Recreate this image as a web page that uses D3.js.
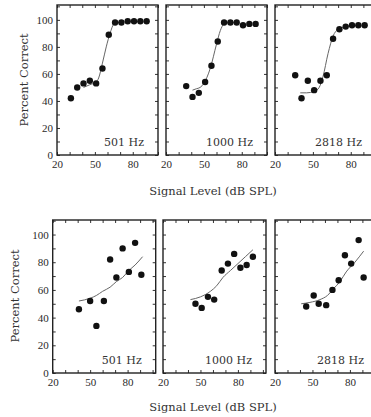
<!DOCTYPE html>
<html>
<head>
<meta charset="utf-8">
<script src="https://cdn.jsdelivr.net/npm/d3@7"></script>
<style>
  body { margin: 0; background: #fff; }
  svg { display: block; }
  .tick text { font-family: "Liberation Serif", serif; font-size: 11px; fill: #2a2a2a; }
  .tick line { stroke: #333; }
  .domain { display: none; }
  .frame { fill: none; stroke: #222; stroke-width: 1.4; }
  .fit { fill: none; stroke: #666; stroke-width: 1; }
  .dot { fill: #111; }
  .freq { font-family: "DejaVu Serif", serif; font-size: 11px; fill: #333; }
  .title { font-family: "DejaVu Serif", serif; font-size: 11.5px; fill: #333; }
</style>
</head>
<body>
<script>
// ---- data ----
const freqs = ["501 Hz", "1000 Hz", "2818 Hz"];

// top row
const top501Level = [31, 36, 41, 46, 51, 56, 61, 66, 71, 76, 81, 86, 91];
const top501Pct   = [42, 50, 53, 55, 53, 64, 89, 98, 98, 99, 99, 99, 99];
const top501FitLevel = [41, 46, 51, 53, 56, 59, 62, 65, 67, 72];
const top501FitPct   = [50, 52, 54, 57, 68, 80, 90, 97, 98, 98];

const top1000Level = [36, 41, 46, 51, 56, 61, 66, 71, 76, 81, 86, 91];
const top1000Pct   = [51, 43, 46, 54, 66, 84, 98, 98, 98, 96, 97, 97];
const top1000FitLevel = [41, 44, 47, 50, 55, 60, 63, 66, 70, 76];
const top1000FitPct   = [48, 49, 50, 53, 64, 82, 92, 97, 98, 98];

const top2818Level = [36, 41, 46, 51, 56, 61, 66, 71, 76, 81, 86, 91];
const top2818Pct   = [59, 42, 55, 48, 55, 59, 86, 93, 95, 96, 96, 96];
const top2818FitLevel = [40, 45, 51, 55, 58, 62, 66, 70, 76, 82];
const top2818FitPct   = [46, 46, 47, 50, 58, 75, 88, 93, 95, 96];

// bottom row
const bot501Level = [41, 50, 55, 61, 66, 71, 76, 81, 86, 91];
const bot501Pct   = [46, 52, 34, 52, 82, 69, 90, 73, 94, 71];
const bot501FitLevel = [41, 50, 55, 60, 66, 71, 76, 81, 86, 92];
const bot501FitPct   = [52, 54, 56, 59, 62, 66, 69, 74, 78, 84];

const bot1000Level = [46, 51, 56, 61, 67, 72, 77, 82, 87, 92];
const bot1000Pct   = [50, 47, 55, 53, 74, 79, 86, 76, 78, 84];
const bot1000FitLevel = [42, 50, 58, 63, 68, 74, 80, 86, 92];
const bot1000FitPct   = [53, 55, 59, 63, 69, 74, 79, 84, 89];

const bot2818Level = [45, 51, 55, 61, 66, 71, 76, 81, 87, 91];
const bot2818Pct   = [48, 56, 50, 49, 60, 67, 85, 79, 96, 69];
const bot2818FitLevel = [41, 48, 56, 62, 67, 72, 77, 84, 91];
const bot2818FitPct   = [50, 51, 53, 56, 61, 66, 73, 80, 88];

const xLabelTicks = [20, 50, 80];
const yLabelTicks = [0, 20, 40, 60, 80, 100];

function zipPts(xs, ys) { return xs.map((x, i) => ({x: x, y: ys[i]})); }

const rows = [
  { top: 5, bottom: 155, xMax: 100, yMax: 111, lefts: [57, 166, 275], width: 101,
    sets: [
      [zipPts(top501Level, top501Pct), zipPts(top501FitLevel, top501FitPct)],
      [zipPts(top1000Level, top1000Pct), zipPts(top1000FitLevel, top1000FitPct)],
      [zipPts(top2818Level, top2818Pct), zipPts(top2818FitLevel, top2818FitPct)]
    ],
    titleY: 195, yTitleX: 28, yTitleY: 80 },
  { top: 220, bottom: 373, xMax: 102.5, yMax: 110.5, lefts: [52.7, 163, 275], width: 103,
    sets: [
      [zipPts(bot501Level, bot501Pct), zipPts(bot501FitLevel, bot501FitPct)],
      [zipPts(bot1000Level, bot1000Pct), zipPts(bot1000FitLevel, bot1000FitPct)],
      [zipPts(bot2818Level, bot2818Pct), zipPts(bot2818FitLevel, bot2818FitPct)]
    ],
    titleY: 411, yTitleX: 19, yTitleY: 296 }
];

const svg = d3.select('body').append('svg')
  .attr('width', 371).attr('height', 417);

rows.forEach(row => {
  row.lefts.forEach((left, p) => {
    const x = d3.scaleLinear().domain([20, row.xMax]).range([left, left + row.width]);
    const y = d3.scaleLinear().domain([0, row.yMax]).range([row.bottom, row.top]);
    const g = svg.append('g');
    const xt = d3.range(20, row.xMax + 0.1, 10);
    const yt = d3.range(0, row.yMax, 10);

    g.append('g').attr('transform', `translate(0,${row.bottom})`)
      .call(d3.axisBottom(x).tickValues(xt).tickSize(-3).tickPadding(5)
        .tickFormat(d => xLabelTicks.includes(d) ? d : ''));
    g.append('g').attr('transform', `translate(0,${row.top})`)
      .call(d3.axisTop(x).tickValues(xt).tickSize(-3).tickFormat(''));
    g.append('g').attr('transform', `translate(${left},0)`)
      .call(d3.axisLeft(y).tickValues(yt).tickSize(-3).tickPadding(4)
        .tickFormat(d => (p === 0 && yLabelTicks.includes(d)) ? d : ''));
    g.append('g').attr('transform', `translate(${left + row.width},0)`)
      .call(d3.axisRight(y).tickValues(yt).tickSize(-3).tickFormat(''));

    g.append('rect').attr('class', 'frame')
      .attr('x', left).attr('y', row.top)
      .attr('width', row.width).attr('height', row.bottom - row.top);

    const [pts, fit] = row.sets[p];
    g.append('path').datum(fit).attr('class', 'fit')
      .attr('d', d3.line().x(d => x(d.x)).y(d => y(d.y)).curve(d3.curveMonotoneX));
    g.selectAll('.dot').data(pts).join('circle').attr('class', 'dot')
      .attr('cx', d => x(d.x)).attr('cy', d => y(d.y)).attr('r', 3.2);

    g.append('text').attr('class', 'freq')
      .attr('x', left + row.width - 14).attr('y', row.bottom - 9)
      .attr('text-anchor', 'end').text(freqs[p]);
  });

  svg.append('text').attr('class', 'title')
    .attr('x', 213).attr('y', row.titleY).attr('text-anchor', 'middle')
    .text('Signal Level (dB SPL)');
  svg.append('text').attr('class', 'title')
    .attr('transform', `translate(${row.yTitleX},${row.yTitleY}) rotate(-90)`)
    .attr('text-anchor', 'middle').text('Percent Correct');
});
</script>
</body>
</html>
